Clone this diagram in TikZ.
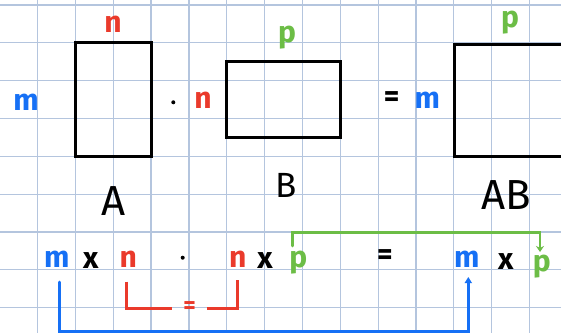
\documentclass[tikz,border=0pt]{standalone}
\usepackage{fontspec}
\setmainfont{Fira Sans}
\usetikzlibrary{arrows.meta}
\definecolor{gridc}{RGB}{180,197,222}
\definecolor{hblue}{RGB}{22,112,245}
\definecolor{hred}{RGB}{234,58,43}
\definecolor{hgreen}{RGB}{108,189,70}
\begin{document}
\begin{tikzpicture}[x=1pt,y=-1pt,
  lbl/.style={inner sep=0pt, anchor=base, font=\fontsize{30}{30}\selectfont\bfseries},
  caplbl/.style={inner sep=0pt, anchor=base, font=\fontsize{42}{42}\selectfont},
  dotmark/.style={circle, fill=black, inner sep=0pt, minimum size=4pt},
  gridline/.style={gridc, line width=1.2pt},
  box/.style={draw=black, line width=3pt},
  bline/.style={hblue, line width=3pt, line cap=round},
  rline/.style={hred, line width=3pt},
  gline/.style={hgreen, line width=2.6pt, line cap=round}]
\useasboundingbox (0,0) rectangle (561,333);
\fill[white] (0,0) rectangle (561,333);
\begin{scope}
\clip (0,0) rectangle (561,333);
\foreach \k in {-1,...,13} \draw[gridline] ({37.5+37.85*\k},0) -- ++(0,333);
\foreach \k in {0,...,8} \draw[gridline] (0,{4.9+37.85*\k}) -- ++(561,0);
% rectangles
\draw[box] (75.3,42.7) rectangle (151,156.7);
\draw[box] (226.7,61.8) rectangle (340,137.3);
\draw[box] (454,44.5) rectangle (580,156.5);
% top labels
\node[lbl, text=hblue] (mA) at (26,110) {m};
\node[lbl, text=hred] (nA) at (113,32) {n};
\node[dotmark] (dot1) at (173.3,102.3) {};
\node[lbl, text=hred] (nB) at (203,108.5) {n};
\node[lbl, text=hgreen] (pB) at (287,42) {p};
\node[lbl, text=black] (eq1) at (391.7,106) {=};
\node[lbl, text=hblue] (mAB) at (427.3,108) {m};
\node[lbl, text=hgreen] (pAB) at (510,27) {p};
\node[caplbl] (labA) at (114,215) {A};
\node[caplbl, font=\fontsize{35}{35}\selectfont] (labB) at (286,197.5) {B};
\node[caplbl] (labAB) at (506,209) {AB};
% bottom row
\node[lbl, text=hblue] (m1) at (56.7,267) {m};
\node[lbl, text=black] (x1) at (90.7,268) {x};
\node[lbl, text=hred] (n1) at (128.3,267) {n};
\node[dotmark] (dot2) at (182.7,257.7) {};
\node[lbl, text=hred] (n2) at (237.7,267) {n};
\node[lbl, text=black] (x2) at (265,268) {x};
\node[lbl, text=hgreen] (p1) at (298.3,267) {p};
\node[lbl, text=black] (eq2) at (385,264) {=};
\node[lbl, text=hblue] (m2) at (466.7,267) {m};
\node[lbl, text=black] (x3) at (505.7,269) {x};
\node[lbl, text=hgreen] (p2) at (541.7,271) {p};
% red equality bracket
\node[inner sep=0pt, minimum width=34.4pt, text=hred, font=\fontsize{24}{24}\selectfont\bfseries] (req) at (189.5,308) {=};
\coordinate (rS) at (126.7,281.7);
\coordinate (rE) at (237.3,280);
\draw[rline] (rS) |- (req.west);
\draw[rline] (req.east) -| (rE);
% blue connector
\coordinate (bS) at (59,282);
\coordinate (bC) at (250,331);
\coordinate (bE) at (468.3,277);
\draw[bline, -{Triangle[length=6pt,width=7pt]}] (bS) |- (bC) -| (bE);
% green connector
\coordinate (gS) at (292.7,246);
\coordinate (gC) at (400,232.3);
\coordinate (gE) at (540,252);
\draw[gline, -{Stealth[length=6pt,width=8pt,inset=2pt]}] (gS) |- (gC) -| (gE);
\end{scope}
\end{tikzpicture}
\end{document}
